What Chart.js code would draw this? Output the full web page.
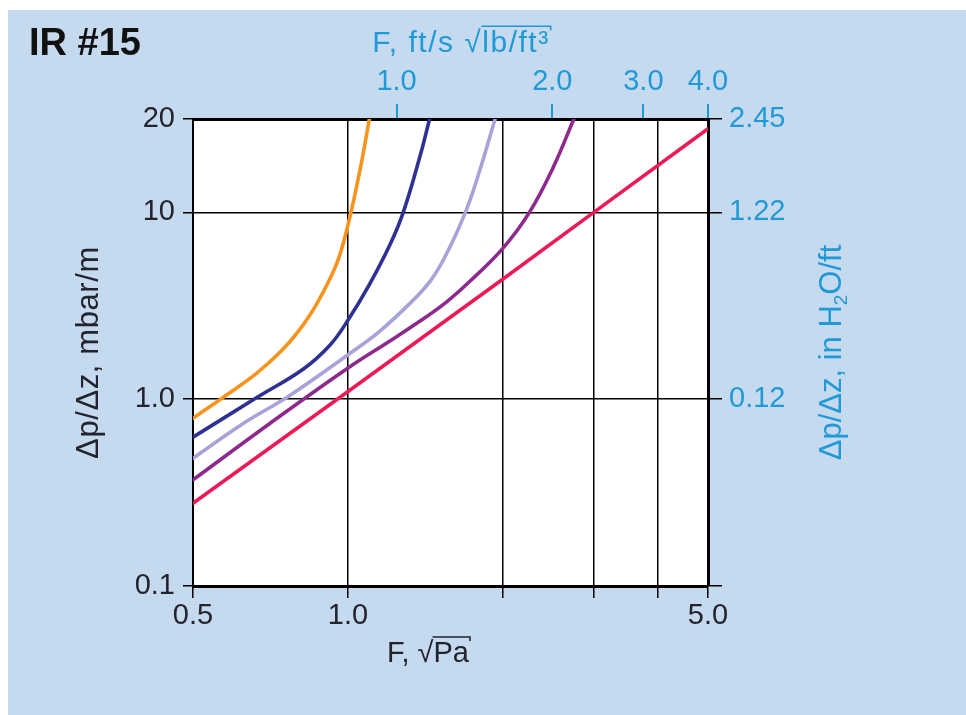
<!DOCTYPE html>
<html>
<head>
<meta charset="utf-8">
<script src="https://cdn.jsdelivr.net/npm/chart.js@4.4.1/dist/chart.umd.min.js"></script>
<style>
  html, body { margin: 0; padding: 0; background: #ffffff; }
  #wrap { width: 966px; height: 715px; }
</style>
</head>
<body>
<div id="wrap"><canvas id="c" width="966" height="715"></canvas></div>
<script>
// ---- data ----
const xTickValues = [0.5, 1, 2, 3, 4, 5];
const xTickLabels = ['0.5', '1.0', '', '', '', '5.0'];
const topTickValues = [1, 2, 3, 4];
const topTickLabels = ['1.0', '2.0', '3.0', '4.0'];
const yTickValues = [0.1, 1, 10, 31.6];
const yTickLabels = ['0.1', '1.0', '10', '20'];
const yRightLabels = ['', '0.12', '1.22', '2.45'];

const orangeF  = [0.5, 0.58, 0.665, 0.74, 0.80, 0.87, 0.95, 1.0, 1.06, 1.10];
const orangeDp = [0.79, 1.05, 1.38, 1.8, 2.3, 3.25, 5.3, 8.6, 18, 31.6];

const navyF  = [0.5, 0.665, 0.819, 0.923, 1.0, 1.10, 1.206, 1.28, 1.38, 1.44];
const navyDp = [0.626, 1.02, 1.45, 1.95, 2.65, 4.1, 6.7, 10, 20, 31.6];

const lavenderF  = [0.5, 0.627, 0.772, 1.0, 1.15, 1.34, 1.45, 1.55, 1.69, 1.80, 1.93];
const lavenderDp = [0.483, 0.744, 1.05, 1.73, 2.3, 3.4, 4.35, 5.93, 10, 16.6, 31.6];

const purpleF  = [0.5, 0.706, 1.0, 1.206, 1.38, 1.55, 1.72, 2.0, 2.25, 2.5, 2.75];
const purpleDp = [0.37, 0.744, 1.47, 2.05, 2.62, 3.3, 4.25, 6.44, 10, 17.3, 32];

const redF  = [0.5, 1.0, 2.0, 3.0, 5.0];
const redDp = [0.277, 1.1, 4.4, 10, 28];

// ---- styling ----
const BLUE = '#1f9ad6';
const DARK = '#23232e';
const FONT = "'Liberation Sans', Arial, sans-serif";

function pts(xs, ys) { return xs.map((x, i) => ({ x: x, y: ys[i] })); }
function ds(label, xs, ys, color, tension) {
  return {
    label: label, data: pts(xs, ys), borderColor: color, backgroundColor: color,
    borderWidth: 3.6, pointRadius: 0, fill: false, clip: 0,
    tension: tension, borderCapStyle: 'round', borderJoinStyle: 'round',
    xAxisID: 'x', yAxisID: 'y'
  };
}

const bgPlugin = {
  id: 'bg',
  beforeDraw(chart) {
    const ctx = chart.ctx, a = chart.chartArea;
    ctx.save();
    ctx.fillStyle = '#ffffff';
    ctx.fillRect(0, 0, chart.width, chart.height);
    ctx.fillStyle = '#c5d9ef';
    ctx.fillRect(8, 10, chart.width - 8, chart.height - 10);
    ctx.fillStyle = '#ffffff';
    ctx.fillRect(a.left, a.top, a.right - a.left, a.bottom - a.top);
    ctx.restore();
  }
};

function drawRadical(ctx, parts, cx, baseline, size, color, spacing) {
  ctx.font = size + 'px ' + FONT;
  if (spacing) ctx.letterSpacing = spacing + 'px';
  const pre = parts[0], rad = parts[1];
  const wPre = ctx.measureText(pre).width;
  const wSq = ctx.measureText('\u221A').width;
  const wRad = ctx.measureText(rad).width;
  const total = wPre + wSq + wRad;
  let x = cx - total / 2;
  ctx.fillStyle = color;
  ctx.textAlign = 'left';
  ctx.textBaseline = 'alphabetic';
  ctx.fillText(pre, x, baseline);
  ctx.fillText('\u221A', x + wPre, baseline);
  ctx.fillText(rad, x + wPre + wSq, baseline);
  ctx.letterSpacing = '0px';
  const yTop = baseline - size * 0.86;
  ctx.strokeStyle = color;
  ctx.lineWidth = 1.6;
  ctx.beginPath();
  ctx.moveTo(x + wPre + wSq - 1, yTop);
  ctx.lineTo(x + total + 1, yTop);
  ctx.lineTo(x + total + 1, yTop + 4);
  ctx.stroke();
}

const textPlugin = {
  id: 'texts',
  afterDraw(chart) {
    const ctx = chart.ctx, a = chart.chartArea;
    ctx.save();
    ctx.fillStyle = '#111';
    ctx.font = 'bold 38px ' + FONT;
    ctx.textAlign = 'left';
    ctx.textBaseline = 'alphabetic';
    ctx.fillText('IR #15', 29, 55);

    drawRadical(ctx, ['F, ft/s ', 'lb/ft\u00B3'], 461, 52, 30, BLUE, 1.5);
    drawRadical(ctx, ['F, ', 'Pa'], 428, 662, 29, DARK, 0);

    ctx.save();
    ctx.translate(98, (a.top + a.bottom) / 2);
    ctx.rotate(-Math.PI / 2);
    ctx.font = '31px ' + FONT;
    ctx.letterSpacing = '0.6px';
    ctx.fillStyle = DARK;
    ctx.textAlign = 'center';
    ctx.textBaseline = 'alphabetic';
    ctx.fillText('\u0394p/\u0394z, mbar/m', 0, 0);
    ctx.restore();

    ctx.save();
    ctx.translate(841, (a.top + a.bottom) / 2);
    ctx.rotate(-Math.PI / 2);
    ctx.fillStyle = BLUE;
    ctx.textAlign = 'left';
    ctx.textBaseline = 'alphabetic';
    const big = '31px ' + FONT, small = '19px ' + FONT;
    const s1 = '\u0394p/\u0394z, in H', s2 = '2', s3 = 'O/ft';
    ctx.font = big; const w1 = ctx.measureText(s1).width; const w3 = ctx.measureText(s3).width;
    ctx.font = small; const w2 = ctx.measureText(s2).width;
    let x = -(w1 + w2 + w3) / 2;
    ctx.font = big; ctx.fillText(s1, x, 0); x += w1;
    ctx.font = small; ctx.fillText(s2, x, 6); x += w2;
    ctx.font = big; ctx.fillText(s3, x, 0);
    ctx.restore();

    ctx.restore();
  }
};

const tickFont = { family: FONT, size: 29 };

new Chart(document.getElementById('c'), {
  type: 'line',
  data: {
    datasets: [
      ds('red', redF, redDp, '#ec1a55', 0),
      ds('purple', purpleF, purpleDp, '#8e2a8e', 0.4),
      ds('lavender', lavenderF, lavenderDp, '#a7a2d8', 0.4),
      ds('navy', navyF, navyDp, '#2e3192', 0.4),
      ds('orange', orangeF, orangeDp, '#f7941d', 0.4)
    ]
  },
  options: {
    responsive: false,
    animation: false,
    devicePixelRatio: 1,
    layout: { padding: 0 },
    plugins: { legend: { display: false }, tooltip: { enabled: false }, title: { display: false } },
    scales: {
      x: {
        type: 'logarithmic', position: 'bottom', min: 0.5, max: 5,
        afterBuildTicks: s => { s.ticks = xTickValues.map(v => ({ value: v })); },
        afterFit: s => { s.height = 129; },
        ticks: { callback: (v, i) => xTickLabels[i], font: tickFont, color: DARK, padding: 1, maxRotation: 0, autoSkip: false },
        grid: { color: '#000', lineWidth: 1.5, tickLength: 12, drawTicks: true },
        border: { color: '#000', width: 3 }
      },
      xTop: {
        type: 'logarithmic', position: 'top', min: 0.404, max: 4.0,
        afterBuildTicks: s => { s.ticks = topTickValues.map(v => ({ value: v })); },
        afterFit: s => { s.height = 119; },
        ticks: { callback: (v, i) => topTickLabels[i], font: tickFont, color: BLUE, padding: 5, maxRotation: 0, autoSkip: false },
        grid: { drawOnChartArea: false, color: BLUE, lineWidth: 2, tickLength: 15 },
        border: { color: '#000', width: 3 }
      },
      y: {
        type: 'logarithmic', position: 'left', min: 0.1, max: 31.6,
        afterBuildTicks: s => { s.ticks = yTickValues.map(v => ({ value: v })); },
        afterFit: s => { s.width = 193; },
        ticks: { callback: (v, i) => yTickLabels[i], font: tickFont, color: DARK, padding: 8, autoSkip: false },
        grid: { color: '#000', lineWidth: 1.5, tickLength: 10 },
        border: { color: '#000', width: 2 }
      },
      yRight: {
        type: 'logarithmic', position: 'right', min: 0.1, max: 31.6,
        afterBuildTicks: s => { s.ticks = yTickValues.map(v => ({ value: v })); },
        afterFit: s => { s.width = 258; },
        ticks: { callback: (v, i) => yRightLabels[i], font: tickFont, color: BLUE, padding: 7, autoSkip: false },
        grid: { drawOnChartArea: false, color: '#000', lineWidth: 1.5, tickLength: 14 },
        border: { color: '#000', width: 3 }
      }
    }
  },
  plugins: [bgPlugin, textPlugin]
});
</script>
</body>
</html>
